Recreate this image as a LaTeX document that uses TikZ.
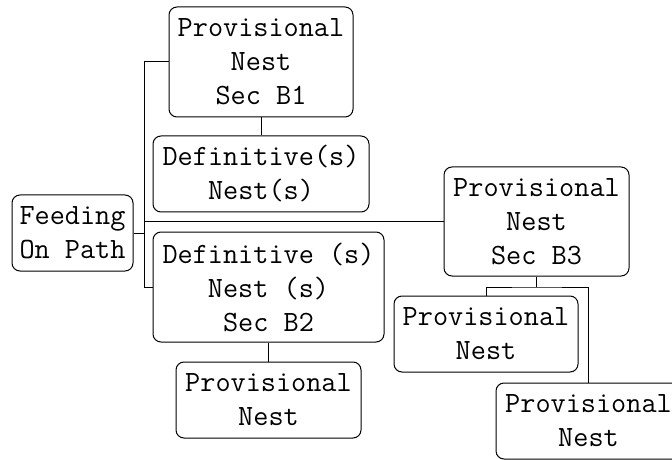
\documentclass[tikz,border=0pt]{standalone}
\usepackage{fontspec}
\tikzstyle{nest} = [draw, rounded corners=4pt, align=center, inner sep=0pt, line width=0.5pt, font=\fontsize{14.7}{17}\selectfont\ttfamily]
\tikzstyle{link} = [line width=0.5pt]

\begin{document}
\begin{tikzpicture}[x=0.5pt, y=-0.5pt]
        \useasboundingbox (0,0) rectangle (672,459);
        %boxes
        \node[nest, minimum width=60.5pt, minimum height=38pt] (feed) at (72.5,233) {Feeding\\On Path};
        \node[nest, minimum width=92pt, minimum height=55pt] (provB1) at (261,62) {Provisional\\Nest\\Sec B1};
        \node[nest, minimum width=108pt, minimum height=38pt] (defB1) at (261,174) {Definitive(s)\\Nest(s)};
        \node[nest, minimum width=115.5pt, minimum height=55pt] (defB2) at (268.5,287) {Definitive (s)\\Nest (s)\\Sec B2};
        \node[nest, minimum width=92.5pt, minimum height=38pt] (provB2) at (268.5,400) {Provisional\\Nest};
        \node[nest, minimum width=92.5pt, minimum height=54.5pt] (provB3) at (536.5,221.5) {Provisional\\Nest\\Sec B3};
        \node[nest, minimum width=92pt, minimum height=38pt] (provB3a) at (486,334) {Provisional\\Nest};
        \node[nest, minimum width=92.5pt, minimum height=38pt] (provB3b) at (588.5,421) {Provisional\\Nest};
        %links
        \coordinate (trunk) at (144,233);
        \coordinate (split) at (536.5,287);
        \draw[link] (feed.east) -- (trunk);
        \draw[link] (provB1.west) -| (trunk);
        \draw[link] (defB2.west) -| (trunk);
        \draw[link] (provB3.west) -- (provB3.west -| trunk);
        \draw[link] (provB1.south) -- (defB1.north);
        \draw[link] (defB2.south) -- (provB2.north);
        \draw[link] (provB3.south) -- (split);
        \draw[link] (provB3a.north) |- (split) -| (provB3b.north);
    \end{tikzpicture}
\end{document}
